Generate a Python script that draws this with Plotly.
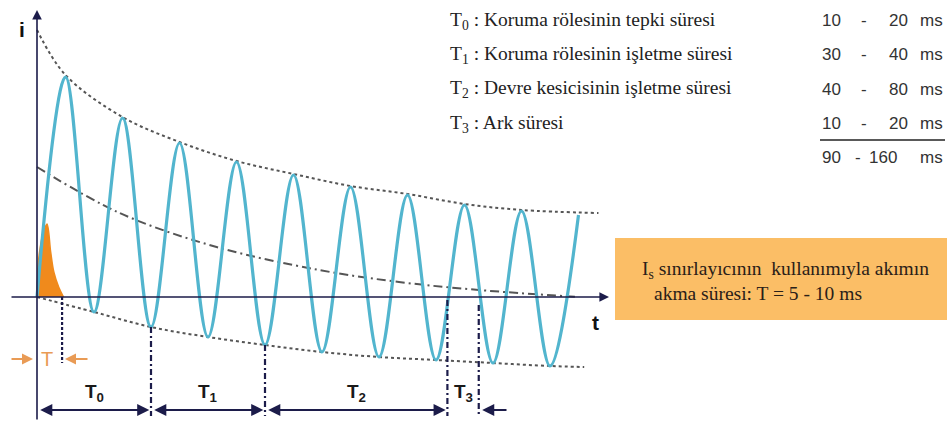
import plotly.graph_objects as go

# Short-circuit current: times of successive extrema (ms) and current values (p.u.)
t_wave = [0, 10, 20, 30, 40, 50, 60, 70, 80, 90, 100, 110, 120, 130, 140, 150, 160, 170, 180, 190]
i_wave = [0, 2.20, -0.15, 1.79, -0.30, 1.54, -0.40, 1.35, -0.48, 1.22, -0.55, 1.10,
          -0.60, 1.02, -0.63, 0.92, -0.66, 0.86, -0.69, 0.82]

# Upper / lower envelopes and the decaying DC component
t_upper = [0, 10, 30, 50, 70, 90, 110, 130, 150, 170, 197]
i_upper = [2.67, 2.22, 1.80, 1.55, 1.36, 1.23, 1.11, 1.03, 0.93, 0.87, 0.84]
t_lower = [0, 20, 40, 60, 80, 100, 120, 140, 160, 180, 192]
i_lower = [0, -0.15, -0.30, -0.40, -0.48, -0.55, -0.60, -0.63, -0.66, -0.69, -0.70]
t_dc = [0, 29, 63, 99, 127, 155, 190]
i_dc = [1.30, 0.84, 0.50, 0.27, 0.15, 0.07, 0.0]

# Limited current pulse (current limiter)
t_pulse = [0, 0.4, 1.0, 2.0, 3.5, 4.8, 5.9, 7.6, 9.3]
i_pulse = [0, 0.32, 0.47, 0.62, 0.73, 0.45, 0.25, 0.10, 0.0]
t_pulse_end = 8.8

# Interval boundaries T0..T3 and the current level where each marker starts
t_bounds = [0, 40, 80, 144, 155]
i_bound_top = [0, -0.30, -0.48, -0.03, -0.08]
interval_labels = ["T<sub>0</sub>", "T<sub>1</sub>", "T<sub>2</sub>", "T<sub>3</sub>"]

# Table of durations (ms)
table_names = ["T<sub>0</sub> : Koruma rölesinin tepki süresi",
               "T<sub>1</sub> : Koruma rölesinin işletme süresi",
               "T<sub>2</sub> : Devre kesicisinin işletme süresi",
               "T<sub>3</sub> : Ark süresi"]
table_low = ["10", "30", "40", "10"]
table_high = ["20", "40", "80", "20"]
total_low = "90"
total_high = "160"
unit = "ms"

W, H = 947, 421
X0, SX = 37, 2.85     # pixel of t=0 and px per ms
Y0, SY = 297, 100     # pixel of i=0 and px per unit current


def tx(p):
    return (p - X0) / SX


def iy(p):
    return (Y0 - p) / SY


WAVE = "#52B5CE"
ENV = "#555555"
NAVY = "#1c1c4a"
ORANGE = "#F08A1C"
ORANGE_TXT = "#E99B55"
SERIF = "Liberation Serif, Times New Roman, DejaVu Serif, serif"
SANS = "Liberation Sans, Arial, sans-serif"

fig = go.Figure()

fig.add_trace(go.Scatter(x=t_pulse, y=i_pulse, mode="lines", fill="tozeroy",
                         fillcolor=ORANGE, line=dict(color=ORANGE, width=1.5, shape="spline")))
fig.add_trace(go.Scatter(x=t_upper, y=i_upper, mode="lines",
                         line=dict(color=ENV, width=2, dash="3px,3px", shape="spline")))
fig.add_trace(go.Scatter(x=t_lower, y=i_lower, mode="lines",
                         line=dict(color=ENV, width=2, dash="3px,3px", shape="spline")))
fig.add_trace(go.Scatter(x=t_dc, y=i_dc, mode="lines",
                         line=dict(color=ENV, width=2, dash="9px,4px,2px,4px", shape="spline")))
fig.add_trace(go.Scatter(x=t_wave, y=i_wave, mode="lines",
                         line=dict(color=WAVE, width=3.2, shape="spline", smoothing=1.0)))

shapes = []
annotations = []

i_bottom = iy(421)
i_arrow = iy(410)

# vertical interval markers
for tb, it in zip(t_bounds[1:], i_bound_top[1:]):
    shapes.append(dict(type="line", xref="x", yref="y", x0=tb, x1=tb, y0=it, y1=iy(416),
                       line=dict(color=NAVY, width=2.2, dash="6px,3px,2px,3px")))
# pulse duration marker
shapes.append(dict(type="line", xref="x", yref="y", x0=t_pulse_end, x1=t_pulse_end,
                   y0=0, y1=iy(363), line=dict(color=NAVY, width=2.2, dash="3px,2px")))

# axes
annotations.append(dict(x=0, y=iy(10), ax=0, ay=i_bottom, xref="x", yref="y", axref="x", ayref="y",
                        text="", showarrow=True, arrowhead=2, arrowsize=1.2, arrowwidth=1.6,
                        arrowcolor=NAVY))
annotations.append(dict(x=tx(609), y=0, ax=tx(10), ay=0, xref="x", yref="y", axref="x", ayref="y",
                        text="", showarrow=True, arrowhead=2, arrowsize=1.2, arrowwidth=1.6,
                        arrowcolor=NAVY))
annotations.append(dict(x=tx(22), y=iy(29), xref="x", yref="y", text="<b>i</b>", showarrow=False,
                        font=dict(family=SANS, size=21, color="#111111")))
annotations.append(dict(x=tx(595), y=iy(322), xref="x", yref="y", text="<b>t</b>", showarrow=False,
                        font=dict(family=SANS, size=21, color="#111111")))

# interval spans with double arrows and labels
for k in range(3):
    a, b = t_bounds[k], t_bounds[k + 1]
    annotations.append(dict(x=b - 0.6, y=i_arrow, ax=a + 0.6, ay=i_arrow, xref="x", yref="y",
                            axref="x", ayref="y", text="", showarrow=True, arrowhead=2,
                            arrowside="end+start", arrowsize=1.1, arrowwidth=2.2, arrowcolor=NAVY))
annotations.append(dict(x=t_bounds[4] + 1.2, y=i_arrow, ax=tx(508), ay=i_arrow, xref="x", yref="y",
                        axref="x", ayref="y", text="", showarrow=True, arrowhead=2,
                        arrowsize=1.1, arrowwidth=2.2, arrowcolor=NAVY))
for k, lab in enumerate(interval_labels):
    mid = (t_bounds[k] + t_bounds[k + 1]) / 2
    annotations.append(dict(x=mid, y=iy(393), xref="x", yref="y", text="<b>" + lab + "</b>",
                            showarrow=False,
                            font=dict(family=SANS, size=19, color="#1a1a1a")))

# pulse duration T with inward arrows
annotations.append(dict(x=tx(47), y=iy(359), xref="x", yref="y", text="T", showarrow=False,
                        font=dict(family=SANS, size=20, color=ORANGE_TXT)))
annotations.append(dict(x=tx(33), y=iy(359), ax=tx(10), ay=iy(359), xref="x", yref="y",
                        axref="x", ayref="y", text="", showarrow=True, arrowhead=2,
                        arrowsize=1, arrowwidth=2.2, arrowcolor=ORANGE_TXT))
annotations.append(dict(x=tx(65), y=iy(359), ax=tx(89), ay=iy(359), xref="x", yref="y",
                        axref="x", ayref="y", text="", showarrow=True, arrowhead=2,
                        arrowsize=1, arrowwidth=2.2, arrowcolor=ORANGE_TXT))


def value_cell(text, x, y, anchor):
    annotations.append(dict(x=x / W, y=1 - y / H, xref="paper", yref="paper", text=text,
                            showarrow=False, xanchor=anchor, yanchor="middle",
                            font=dict(family=SANS, size=17, color="#333333")))


# duration table
row_y = [21, 55, 89, 124]
for name, lo, hi, yy in zip(table_names, table_low, table_high, row_y):
    annotations.append(dict(x=448 / W, y=1 - yy / H, xref="paper", yref="paper", text=name,
                            showarrow=False, xanchor="left", yanchor="middle",
                            font=dict(family=SERIF, size=19.5, color="#222222")))
    value_cell(lo, 820, yy, "left")
    value_cell("-", 864, yy, "center")
    value_cell(hi, 910, yy, "right")
    value_cell(unit, 945, yy, "right")
value_cell(total_low, 820, 157, "left")
value_cell("-", 858, 157, "center")
value_cell(total_high, 899, 157, "right")
value_cell(unit, 945, 157, "right")
shapes.append(dict(type="line", xref="paper", yref="paper", x0=820 / W, x1=945 / W,
                   y0=1 - 140 / H, y1=1 - 140 / H, line=dict(color="#222222", width=1.5)))

# limiter note box
shapes.append(dict(type="rect", xref="paper", yref="paper", x0=615 / W, x1=1.0,
                   y0=1 - 320 / H, y1=1 - 238 / H, fillcolor="#FBBE66", line=dict(width=0),
                   layer="below"))
annotations.append(dict(x=640 / W, y=1 - 270 / H, xref="paper", yref="paper",
                        text="I<sub>s</sub> sınırlayıcının\u00a0 kullanımıyla akımın",
                        showarrow=False, xanchor="left", yanchor="middle",
                        font=dict(family=SERIF, size=19.5, color="#2a2018")))
annotations.append(dict(x=652 / W, y=1 - 293 / H, xref="paper", yref="paper",
                        text="akma süresi: T = 5 - 10 ms",
                        showarrow=False, xanchor="left", yanchor="middle",
                        font=dict(family=SERIF, size=19.5, color="#2a2018")))

fig.update_layout(
    width=W, height=H, margin=dict(l=0, r=0, t=0, b=0),
    paper_bgcolor="white", plot_bgcolor="white", showlegend=False,
    xaxis=dict(range=[tx(0), tx(W)], visible=False, fixedrange=True),
    yaxis=dict(range=[iy(H), iy(0)], visible=False, fixedrange=True),
    shapes=shapes, annotations=annotations,
)

fig.write_html("out.html")
